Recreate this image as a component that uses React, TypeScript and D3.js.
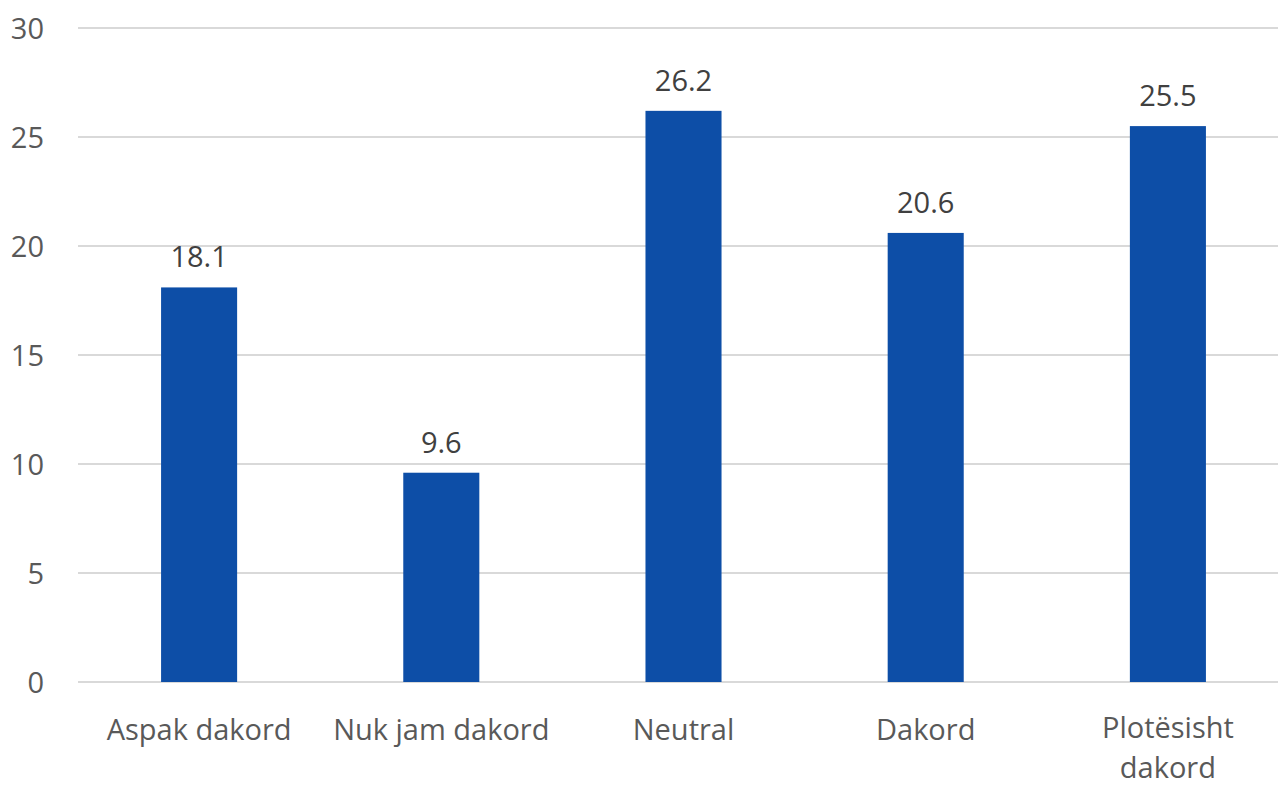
import React, { useEffect, useRef } from "react";
import * as d3 from "d3";

const categories = ["Aspak dakord", "Nuk jam dakord", "Neutral", "Dakord", "Plotësisht dakord"];
const values = [18.1, 9.6, 26.2, 20.6, 25.5];
const yTicks = [0, 5, 10, 15, 20, 25, 30];

const W = 1278;
const H = 785;
const FONT = "'Open Sans', 'Noto Sans', sans-serif";

export default function App() {
  const ref = useRef<SVGSVGElement | null>(null);

  useEffect(() => {
    const svg = d3.select(ref.current);
    svg.selectAll("*").remove();

    const left = 78, right = 1289, top = 28, bottom = 682;
    const x = d3.scaleBand<string>().domain(categories).range([left, right]).paddingInner(0.686).paddingOuter(0.343);
    const y = d3.scaleLinear().domain([0, 30]).range([bottom, top]);

    // gridlines
    svg.append("g").selectAll("line").data(yTicks).join("line")
      .attr("x1", left).attr("x2", right)
      .attr("y1", d => y(d)).attr("y2", d => y(d))
      .attr("stroke", "#D9D9D9").attr("stroke-width", 2);

    // y tick labels
    svg.append("g").selectAll("text").data(yTicks).join("text")
      .attr("x", 44).attr("y", d => y(d) + 11)
      .attr("text-anchor", "end")
      .attr("font-family", FONT).attr("font-size", 29).attr("fill", "#595959")
      .text(d => String(d));

    // bars
    svg.append("g").selectAll("rect").data(values).join("rect")
      .attr("x", (_, i) => x(categories[i])!)
      .attr("width", x.bandwidth())
      .attr("y", d => y(d))
      .attr("height", d => bottom - y(d))
      .attr("fill", "#0D4EA7");

    // data labels
    svg.append("g").selectAll("text").data(values).join("text")
      .attr("x", (_, i) => x(categories[i])! + x.bandwidth() / 2)
      .attr("y", d => y(d) - 20)
      .attr("text-anchor", "middle")
      .attr("font-family", FONT).attr("font-size", 29).attr("fill", "#404040")
      .text(d => d.toFixed(1));

    // category labels with wrapping
    const step = x.step();
    const g = svg.append("g");
    categories.forEach((c) => {
      const cx = x(c)! + x.bandwidth() / 2;
      const t = g.append("text")
        .attr("x", cx).attr("y", bottom + 58)
        .attr("text-anchor", "middle")
        .attr("font-family", FONT).attr("font-size", 29).attr("fill", "#595959")
        .text(c);
      const node = t.node() as SVGTextElement;
      if (node.getComputedTextLength() > step - 20) {
        t.text(null);
        const words = c.split(" ");
        words.forEach((w, k) => {
          t.append("tspan").attr("x", cx).attr("y", bottom + 56 + k * 40).text(w);
        });
      }
    });
  }, []);

  return (
    <div style={{ position: "absolute", left: 0, top: 0 }}>
      <svg ref={ref} width={W} height={H} style={{ display: "block", background: "#fff" }} />
    </div>
  );
}
